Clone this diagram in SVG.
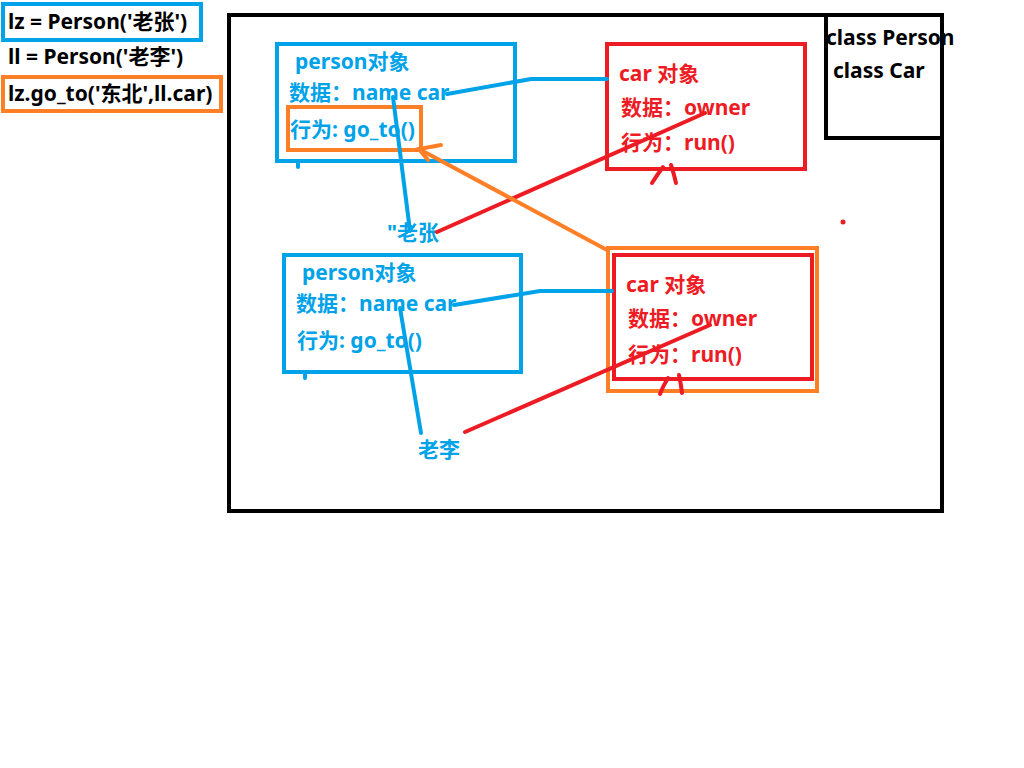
<svg xmlns="http://www.w3.org/2000/svg" width="1024" height="768" viewBox="0 0 1024 768">
<style>
text{font-family:"Noto Sans","Noto Sans CJK SC",sans-serif;font-weight:bold;font-size:21px}
.k{fill:#000}.b{fill:#00a2e8}.r{fill:#ed1c24}
.box{fill:none;stroke-width:4}
.sb{stroke:#00a2e8}.sr{stroke:#ed1c24}.so{stroke:#ff7f27}.sk{stroke:#000}
.ln{fill:none;stroke-width:4;stroke-linecap:round}
</style>
<rect width="1024" height="768" fill="#fff"/>
<g id="code">
<rect x="3" y="4" width="198" height="36" class="box sb"/>
<text x="8" y="29" class="k">lz = Person('老张')</text>
<text x="8" y="64" class="k">ll = Person('老李')</text>
<rect x="3" y="77" width="218" height="34" class="box so"/>
<text x="8" y="101" class="k">lz.go_to('东北',ll.car)</text>
</g>
<g id="frame">
<rect x="229" y="15" width="713" height="496" class="box sk"/>
</g>
<g id="classes">
<rect x="826" y="15" width="116" height="123" class="box sk"/>
<text x="826" y="45" class="k">class Person</text>
<text x="833" y="78" class="k">class Car</text>
</g>
<g id="person1">
<rect x="277" y="44" width="238" height="117" class="box sb"/>
<line x1="298" y1="162" x2="298" y2="167" class="ln sb" stroke-linecap="butt"/>
<text x="295" y="69" class="b">person对象</text>
<text x="289" y="100" class="b">数据：name car</text>
<text x="290" y="137" class="b">行为: go_to()</text>
<rect x="288" y="107" width="133" height="43" class="box so"/>
</g>
<g id="car1">
<rect x="607" y="44" width="198" height="125" class="box sr"/>
<text x="619" y="81" class="r">car 对象</text>
<text x="621" y="115" class="r">数据：owner</text>
<text x="621" y="150" class="r">行为：run()</text>
<path d="M663 167 Q657 175 652 183 M671 165 Q674 174 676 183" class="ln sr"/>
</g>
<g id="person2">
<rect x="284" y="255" width="237" height="117" class="box sb"/>
<line x1="305" y1="372" x2="305" y2="378" class="ln sb" stroke-linecap="butt"/>
<text x="302" y="280" class="b">person对象</text>
<text x="296" y="311" class="b">数据：name car</text>
<text x="297" y="348" class="b">行为: go_to()</text>
</g>
<g id="car2">
<rect x="608" y="248" width="209" height="143" class="box so"/>
<rect x="614" y="255" width="198" height="124" class="box sr"/>
<text x="626" y="292" class="r">car 对象</text>
<text x="628" y="326" class="r">数据：owner</text>
<text x="628" y="362" class="r">行为：run()</text>
<path d="M668 378 Q663 386 660 394 M679 375 Q681 384 682 393" class="ln sr"/>
</g>
<g id="labels">
<text x="387" y="240" class="b">"老张</text>
<text x="418" y="457" class="b">老李</text>
<circle cx="843" cy="222" r="2.5" fill="#ed1c24"/>
</g>
<g id="connectors">
<path d="M447 94 L531 79 L607 79" class="ln sb" stroke-linecap="butt"/>
<path d="M454 305 L540 291 L612 291" class="ln sb" stroke-linecap="butt"/>
<line x1="393" y1="97" x2="410" y2="231" class="ln sb"/>
<line x1="400" y1="308" x2="421" y2="433" class="ln sb"/>
<line x1="705" y1="113" x2="437" y2="232" class="ln sr"/>
<line x1="710" y1="325" x2="465" y2="432" class="ln sr"/>
<line x1="607" y1="250" x2="419" y2="149" class="ln so"/>
<path d="M441 145 L419 149 L428 160" class="ln so"/>
</g>
</svg>
